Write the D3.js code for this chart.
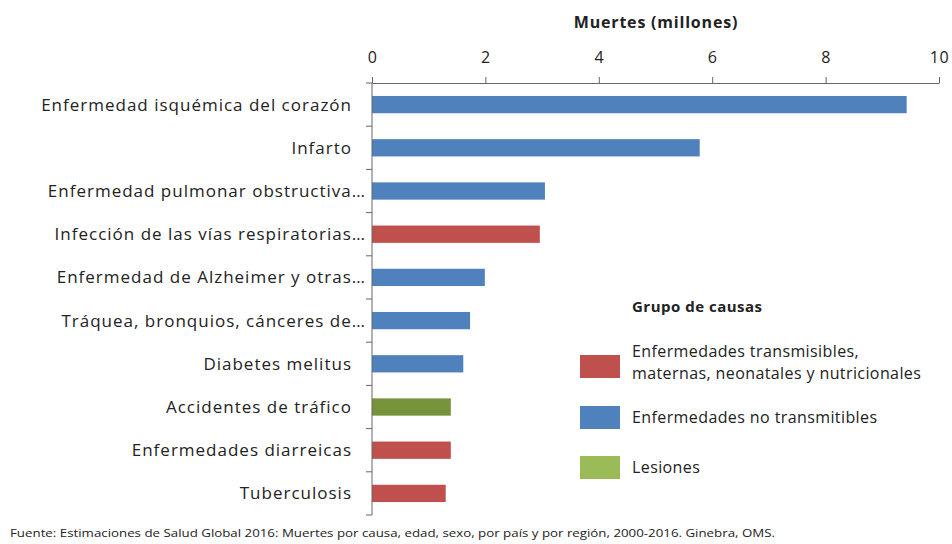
<!DOCTYPE html>
<html>
<head>
    <meta charset="utf-8"/>
    <style>
        body{ margin:0; background:#fff; }
        text{ font-family: "Open Sans", Lato, sans-serif; fill:#222; }
        .axis path, .axis line{ stroke:#666; }
        .axis text{ font-size:16px; fill:#222; font-family:"Open Sans", sans-serif; letter-spacing:0.5px; }
    </style>
</head>
<body>
<svg id="graph" width="952" height="544"></svg>
<script src="https://d3js.org/d3.v7.min.js"></script>
<script>
    // Causes, from the top bar down
    const categories = [
        'Enfermedad isquémica del corazón',
        'Infarto',
        'Enfermedad pulmonar obstructiva…',
        'Infección de las vías respiratorias…',
        'Enfermedad de Alzheimer y otras…',
        'Tráquea, bronquios, cánceres de…',
        'Diabetes melitus',
        'Accidentes de tráfico',
        'Enfermedades diarreicas',
        'Tuberculosis'
    ];
    // Deaths in millions
    const deaths = [9.43, 5.78, 3.05, 2.96, 1.99, 1.73, 1.61, 1.39, 1.39, 1.30];
    // Cause group of each bar
    const groups = ['nt', 'nt', 'nt', 'tr', 'nt', 'nt', 'nt', 'les', 'tr', 'tr'];
    const xTicks = [0, 2, 4, 6, 8, 10];
    const groupKeys = ['tr', 'nt', 'les'];
    const groupLabels = [
        ['Enfermedades transmisibles,', 'maternas, neonatales y nutricionales'],
        ['Enfermedades no transmitibles'],
        ['Lesiones']
    ];

    const barColor = d3.scaleOrdinal().domain(groupKeys).range(['#c0504d', '#4f81bd', '#77933c']);
    const legendColor = d3.scaleOrdinal().domain(groupKeys).range(['#c0504d', '#4f81bd', '#9bbb59']);

    var plotLeft = 372, plotRight = 939, plotTop = 83, plotBottom = 515;
    var svg = d3.select('#graph');

    var x = d3.scaleLinear().domain([0, 10]).range([plotLeft, plotRight]);
    var y = d3.scaleBand().domain(categories).range([plotTop, plotBottom]).paddingInner(0.6).paddingOuter(0.3);
    var yBounds = d3.scaleLinear().domain([0, categories.length]).range([plotTop, plotBottom]);

    // bars
    svg.append('g').selectAll('rect')
        .data(categories)
        .enter().append('rect')
        .attr('x', x(0))
        .attr('y', d => y(d))
        .attr('width', (d, i) => x(deaths[i]) - x(0))
        .attr('height', y.bandwidth())
        .attr('fill', (d, i) => barColor(groups[i]));

    // top axis
    svg.append('g')
        .attr('class', 'axis')
        .attr('transform', 'translate(0,' + plotTop + ')')
        .call(d3.axisTop(x).tickValues(xTicks).tickSize(6).tickPadding(14).tickSizeOuter(0));

    // left axis line with ticks between categories
    var yAxis = svg.append('g').attr('class', 'axis');
    yAxis.append('line')
        .attr('x1', plotLeft).attr('x2', plotLeft)
        .attr('y1', plotTop).attr('y2', plotBottom);
    yAxis.selectAll('.tk')
        .data(d3.range(categories.length + 1))
        .enter().append('line')
        .attr('x1', plotLeft - 6).attr('x2', plotLeft)
        .attr('y1', d => yBounds(d)).attr('y2', d => yBounds(d));

    // category labels
    svg.append('g').selectAll('text')
        .data(categories)
        .enter().append('text')
        .attr('x', d => d.endsWith('…') ? 366 : 352)
        .attr('y', d => y(d) + y.bandwidth() / 2)
        .attr('dy', '0.35em')
        .attr('text-anchor', 'end')
        .style('font-size', '17px')
        .style('letter-spacing', '1px')
        .text(d => d);

    // axis title
    svg.append('text')
        .attr('x', 656).attr('y', 28)
        .attr('text-anchor', 'middle')
        .style('font-size', '16px').style('font-weight', 700)
        .style('letter-spacing', '0.8px')
        .text('Muertes (millones)');

    // legend
    var legend = svg.append('g');
    legend.append('text')
        .attr('x', 632).attr('y', 312)
        .style('font-size', '15px').style('font-weight', 700)
        .style('letter-spacing', '0.5px')
        .text('Grupo de causas');
    var legendY = [355, 406, 456];
    var items = legend.selectAll('.item')
        .data(groupKeys)
        .enter().append('g');
    items.append('rect')
        .attr('x', 580).attr('y', (d, i) => legendY[i])
        .attr('width', 40).attr('height', 23)
        .attr('fill', d => legendColor(d));
    items.each(function(d, i) {
        var lines = groupLabels[i];
        var t = d3.select(this).append('text')
            .attr('x', 632)
            .style('font-size', '16px')
            .style('letter-spacing', '0.4px');
        lines.forEach(function(line, j) {
            t.append('tspan')
                .attr('x', 632)
                .attr('y', legendY[i] + (lines.length > 1 ? 2 + j * 22 : 17))
                .text(line);
        });
    });

    // source note
    svg.append('text')
        .attr('x', 10).attr('y', 537)
        .style('font-size', '11px')
        .attr('textLength', 765)
        .attr('lengthAdjust', 'spacingAndGlyphs')
        .text('Fuente: Estimaciones de Salud Global 2016: Muertes por causa, edad, sexo, por país y por región, 2000-2016. Ginebra, OMS.');
</script>
</body>
</html>
